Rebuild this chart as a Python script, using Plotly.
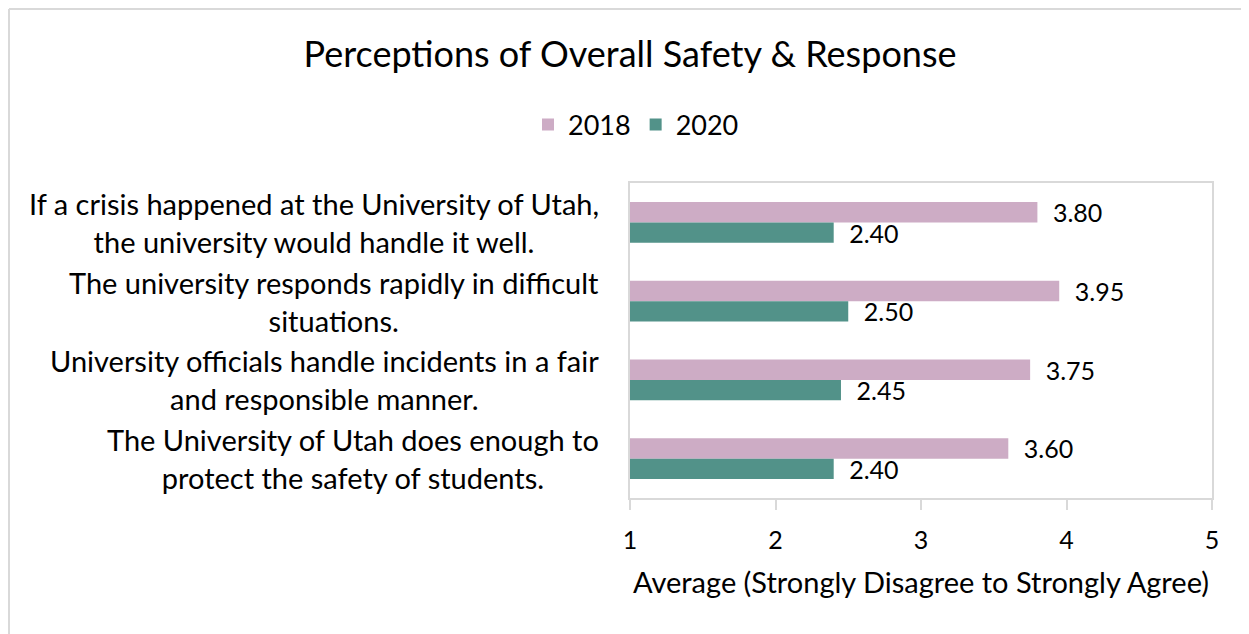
import plotly.graph_objects as go

# ---- data ----
categories = [
    "If a crisis happened at the University of Utah,<br>the university would handle it well.",
    "The university responds rapidly in difficult<br>situations.",
    "University officials handle incidents in a fair<br>and responsible manner.",
    "The University of Utah does enough to<br>protect the safety of students.",
]
series_names = ["2018", "2020"]
values_2018 = [3.80, 3.95, 3.75, 3.60]
values_2020 = [2.40, 2.50, 2.45, 2.40]
x_ticks = [1, 2, 3, 4, 5]

title_text = "Perceptions of Overall Safety & Response"
x_title = "Average (Strongly Disagree to Strongly Agree)"

# ---- styling ----
OFF = 8  # page body margin offset
W, H = 1249, 634
L, R, T, B = 630 - OFF, 1212 - OFF, 183 - OFF, 498 - OFF
pink = "#CDACC5"
teal = "#529289"
grid = "#D9D9D9"
FONT = "Lato"

def px_x(p):
    return (p - OFF - L) / (R - L)

def px_y(p):
    return (B - (p - OFF)) / (B - T)

fig = go.Figure()
for name, vals, col in [(series_names[0], values_2018, pink), (series_names[1], values_2020, teal)]:
    fig.add_trace(go.Bar(
        name=name, y=categories, x=[v - 1 for v in vals], base=1,
        orientation="h", marker=dict(color=col, line=dict(width=0)),
        text=[f"\u2002{v:.2f}" for v in vals], textposition="outside",
        constraintext="none",
        textfont=dict(family=FONT, size=25, color="#000000"),
        cliponaxis=False, hoverinfo="skip",
    ))

annotations = []
for c in categories:
    annotations.append(dict(
        text=c, x=px_x(601), xref="paper", y=c, yref="y",
        xanchor="right", yanchor="middle", align="center", showarrow=False,
        font=dict(family=FONT, size=29, color="#000000"),
    ))

# outer chart frame (top and left edges visible in the reference)
shapes = [
    dict(type="line", xref="paper", yref="paper", x0=px_x(OFF + 1), x1=px_x(W + 20),
         y0=px_y(OFF + 1), y1=px_y(OFF + 1), line=dict(color=grid, width=2)),
    dict(type="line", xref="paper", yref="paper", x0=px_x(OFF + 1), x1=px_x(OFF + 1),
         y0=px_y(OFF + 1), y1=px_y(H + 20), line=dict(color=grid, width=2)),
]

fig.update_layout(
    width=W, height=H,
    margin=dict(l=L, r=W - R, t=T, b=H - B, autoexpand=False),
    paper_bgcolor="white", plot_bgcolor="white",
    barmode="group", bargap=0.48, bargroupgap=0,
    title=dict(text=title_text, x=px_x(630), xref="paper", xanchor="center",
               y=1 - (54 - OFF) / H, yref="container", yanchor="middle",
               font=dict(family=FONT, size=36, color="#000000")),
    legend=dict(orientation="h", x=px_x(636), xanchor="center", y=px_y(125), yanchor="middle",
                font=dict(family=FONT, size=27, color="#000000"), traceorder="normal",
                bgcolor="rgba(0,0,0,0)"),
    xaxis=dict(range=[1, 5], tickvals=x_ticks, ticktext=[str(t) for t in x_ticks],
               showgrid=False, zeroline=False, showline=True, linecolor=grid, linewidth=2,
               mirror=True, ticks="outside", ticklen=10, tickcolor=grid, tickwidth=2,
               ticklabelstandoff=9,
               tickfont=dict(family=FONT, size=25, color="#000000"),
               title=dict(text=x_title, standoff=20,
                          font=dict(family=FONT, size=29, color="#000000"))),
    yaxis=dict(autorange="reversed", showticklabels=False, showgrid=False, zeroline=False,
               showline=True, linecolor=grid, linewidth=2, mirror=True, ticks=""),
    annotations=annotations, shapes=shapes,
    font=dict(family=FONT),
)

fig.write_html("out.html")
